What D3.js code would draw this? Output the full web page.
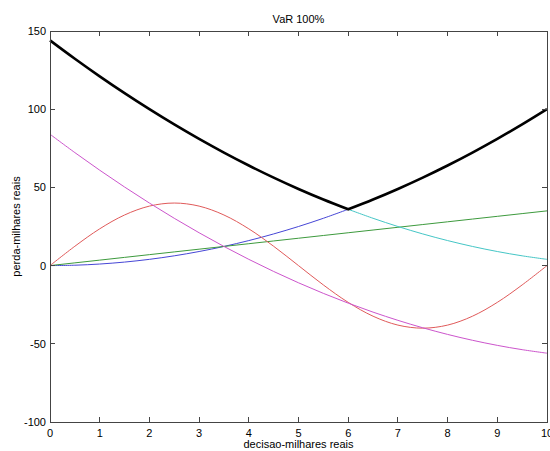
<!DOCTYPE html>
<html><head><meta charset="utf-8">
<script src="https://cdn.jsdelivr.net/npm/d3@7"></script>
<style>body{margin:0;background:#fff}svg{display:block}text{font-family:"Liberation Sans",Arial,sans-serif;}</style>
</head><body><svg id="c" width="550" height="451"></svg>
<script>
const xAll = [0,0.5,1,1.5,2,2.5,3,3.5,4,4.5,5,5.5,6,6.5,7,7.5,8,8.5,9,9.5,10];
const xLeft = [0,0.5,1,1.5,2,2.5,3,3.5,4,4.5,5,5.5,6];
const xRight = [6,6.5,7,7.5,8,8.5,9,9.5,10];
const blueVals = [0,0.25,1,2.25,4,6.25,9,12.25,16,20.25,25,30.25,36];
const cyanVals = [36,30.25,25,20.25,16,12.25,9,6.25,4];
const greenVals = [0,1.75,3.5,5.25,7,8.75,10.5,12.25,14,15.75,17.5,19.25,21,22.75,24.5,26.25,28,29.75,31.5,33.25,35];
const redVals = [0,12.36,23.51,32.36,38.04,40,38.04,32.36,23.51,12.36,0,-12.36,-23.51,-32.36,-38.04,-40,-38.04,-32.36,-23.51,-12.36,0];
const magentaVals = [84,72.25,61,50.25,40,30.25,21,12.25,4,-3.75,-11,-17.75,-24,-29.75,-35,-39.75,-44,-47.75,-51,-53.75,-56];
const blackVals = [144,132.25,121,110.25,100,90.25,81,72.25,64,56.25,49,42.25,36,42.25,49,56.25,64,72.25,81,90.25,100];
const xTicks = [0,1,2,3,4,5,6,7,8,9,10];
const yTicks = [-100,-50,0,50,100,150];
const title = "VaR 100%", xLabel = "decisao-milhares reais", yLabel = "perda-milhares reais";

const L=50,R=547,T=31,B=422;
const svg=d3.select("#c");
const x=d3.scaleLinear().domain([0,10]).range([L,R]);
const y=d3.scaleLinear().domain([-100,150]).range([B,T]);
const axCol="#444";

const pts=(xs,ys)=>xs.map((v,i)=>[v,ys[i]]);
const line=d3.line().x(d=>x(d[0])).y(d=>y(d[1])).curve(d3.curveCatmullRom.alpha(0.5));
const lineLin=d3.line().x(d=>x(d[0])).y(d=>y(d[1]));
const series=[
 {d:pts(xLeft,blueVals),c:"#4646d6",w:1},
 {d:pts(xAll,greenVals),c:"#3d9a3d",w:1,lin:true},
 {d:pts(xAll,redVals),c:"#e05a5a",w:1},
 {d:pts(xRight,cyanVals),c:"#45c6c6",w:1},
 {d:pts(xAll,magentaVals),c:"#cc55cc",w:1},
];
const g=svg.append("g");
series.forEach(s=>g.append("path").attr("d",(s.lin?lineLin:line)(s.d)).attr("fill","none").attr("stroke",s.c).attr("stroke-width",s.w));
// black: two branches joined at corner
const bl=pts(xAll,blackVals);
const bLeft=bl.slice(0,13), bRight=bl.slice(12);
g.append("path").attr("d",line(bLeft)+line(bRight).replace(/^M/,"L")).attr("fill","none").attr("stroke","#000").attr("stroke-width",2.6).attr("stroke-linejoin","miter");

// axes box
svg.append("rect").attr("x",L).attr("y",T).attr("width",R-L).attr("height",B-T).attr("fill","none").attr("stroke",axCol).attr("stroke-width",1).attr("shape-rendering","crispEdges");
const tk=5;
xTicks.forEach(t=>{
  svg.append("line").attr("x1",x(t)).attr("x2",x(t)).attr("y1",B).attr("y2",B-tk).attr("stroke",axCol).attr("shape-rendering","crispEdges");
  svg.append("line").attr("x1",x(t)).attr("x2",x(t)).attr("y1",T).attr("y2",T+tk).attr("stroke",axCol).attr("shape-rendering","crispEdges");
  svg.append("text").attr("x",x(t)).attr("y",B+15).attr("text-anchor","middle").attr("font-size",11).text(t);
});
yTicks.forEach(t=>{
  svg.append("line").attr("x1",L).attr("x2",L+tk).attr("y1",y(t)).attr("y2",y(t)).attr("stroke",axCol).attr("shape-rendering","crispEdges");
  svg.append("line").attr("x1",R).attr("x2",R-tk).attr("y1",y(t)).attr("y2",y(t)).attr("stroke",axCol).attr("shape-rendering","crispEdges");
  svg.append("text").attr("x",L-4).attr("y",y(t)+4).attr("text-anchor","end").attr("font-size",11).text(t);
});
svg.append("text").attr("x",(L+R)/2).attr("y",23).attr("text-anchor","middle").attr("font-size",11).text(title);
svg.append("text").attr("x",(L+R)/2).attr("y",448).attr("text-anchor","middle").attr("font-size",11).text(xLabel);
svg.append("text").attr("transform",`translate(20,${(T+B)/2}) rotate(-90)`).attr("text-anchor","middle").attr("font-size",11).text(yLabel);
</script></body></html>
